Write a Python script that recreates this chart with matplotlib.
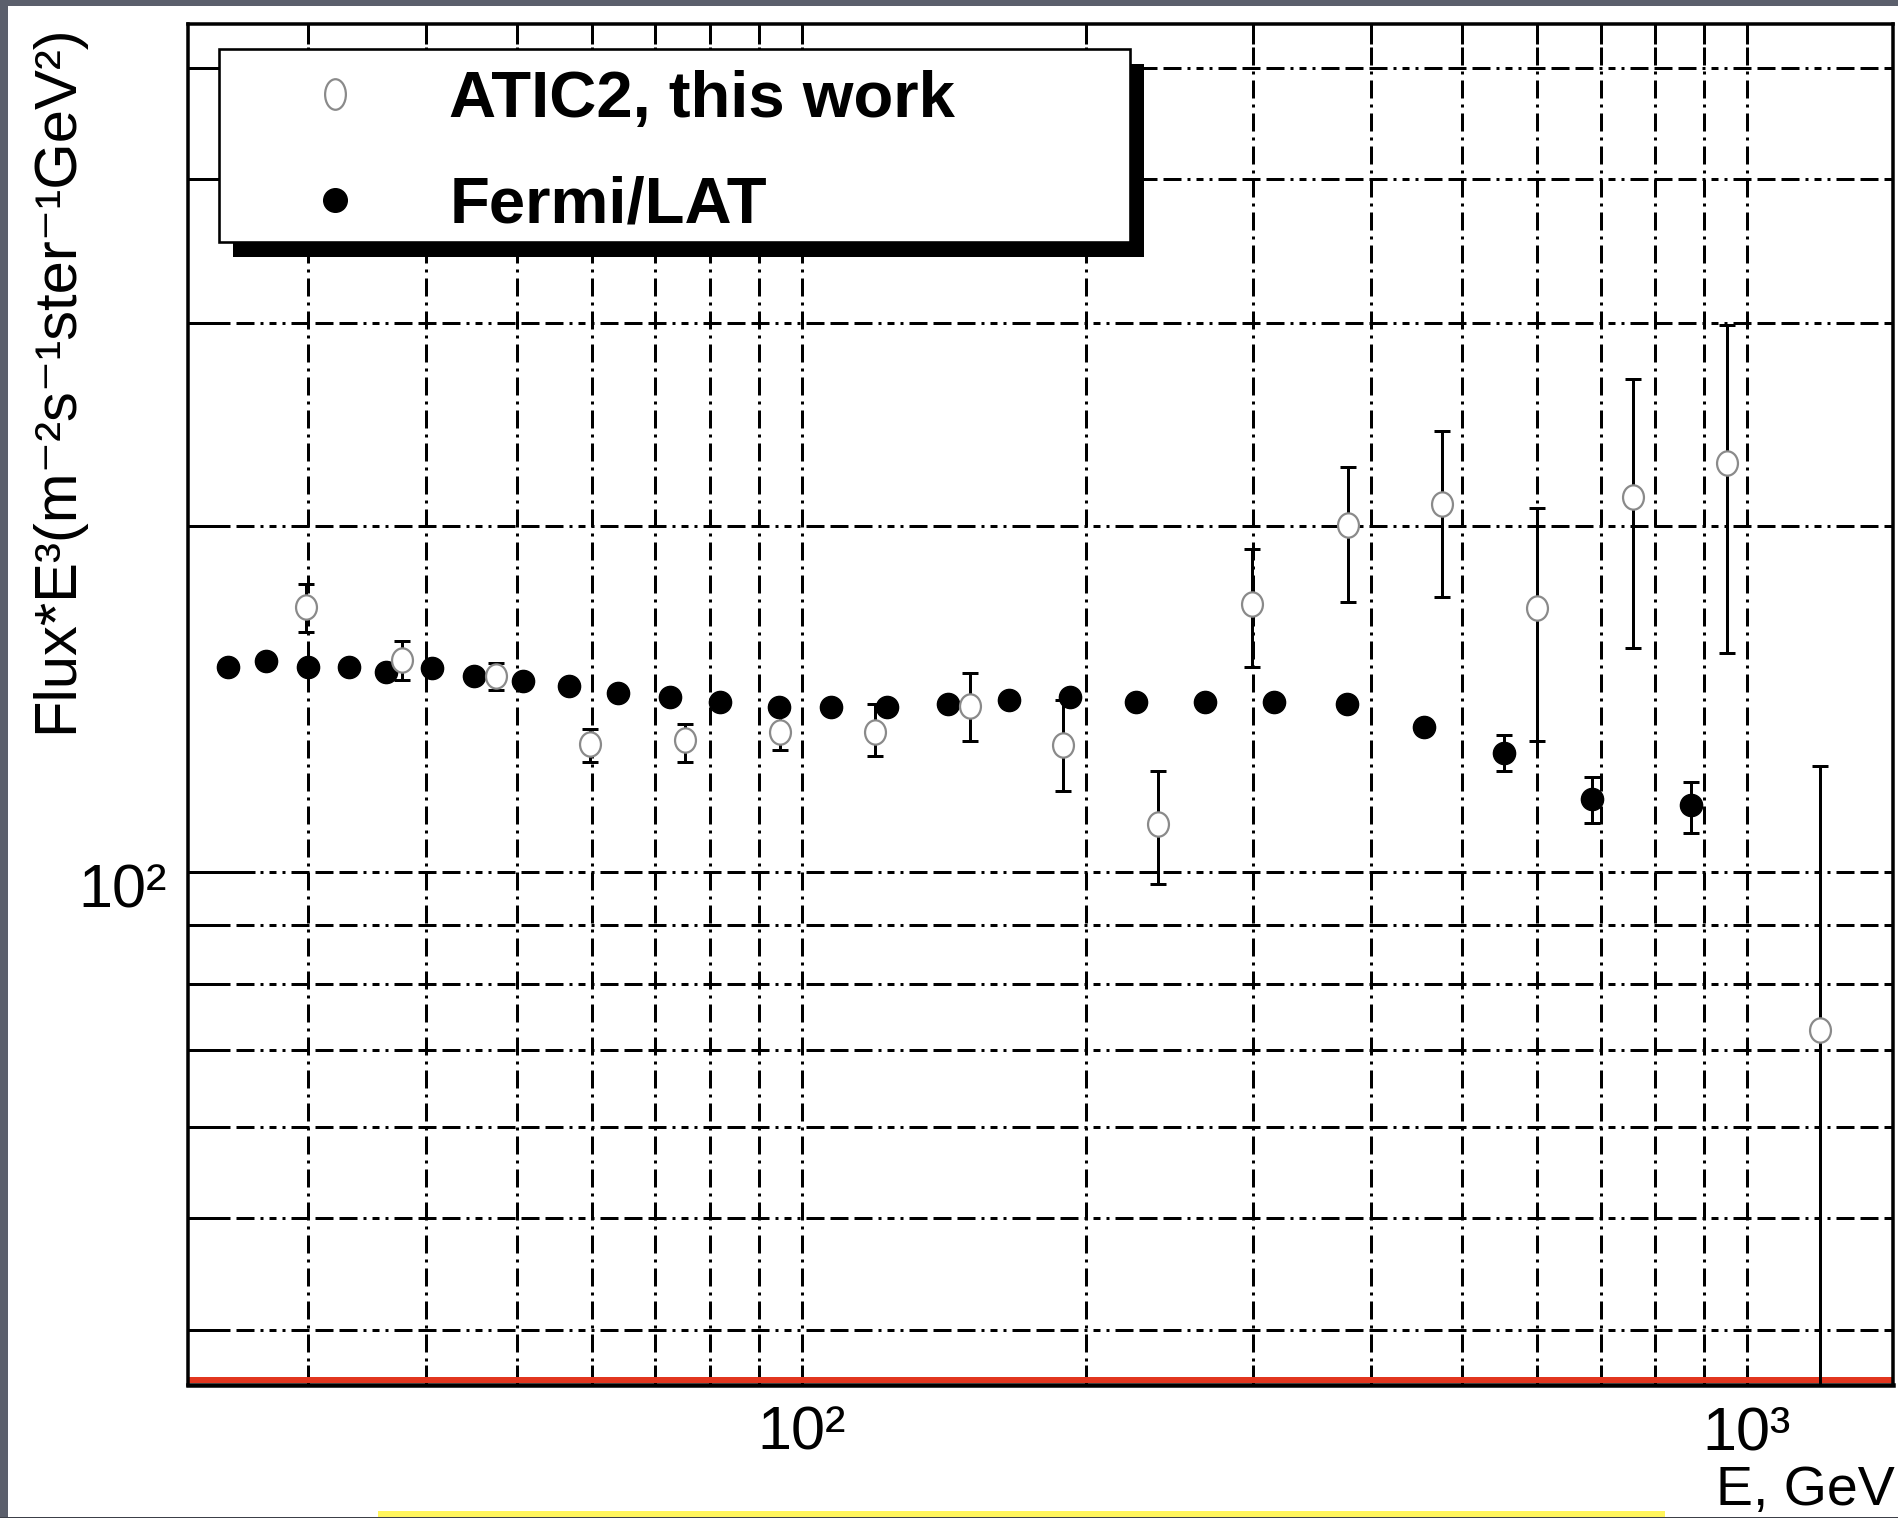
import matplotlib
matplotlib.use("Agg")
import matplotlib.pyplot as plt
import matplotlib.transforms as mtransforms
from matplotlib.patches import Rectangle
from matplotlib.lines import Line2D
from matplotlib.path import Path
from matplotlib.ticker import FixedLocator, FixedFormatter, NullFormatter
import numpy as np

# ---------------- data ----------------
# Fermi/LAT electron spectrum, Flux*E^3
fermi_energy = [24.7, 27.1, 30.0, 33.2, 36.3, 40.6, 45.0, 50.7, 56.7, 63.9,
                72.6, 81.9, 94.5, 107.4, 123.2, 142.7, 165.8, 192.4, 225.5,
                266.7, 316.1, 377.0, 455.0, 553.0, 685.0, 873.0]
fermi_flux = [150.8, 152.5, 150.8, 150.8, 149.3, 150.3, 148.0, 146.6, 145.1,
              143.1, 141.8, 140.6, 139.2, 139.2, 139.0, 140.0, 141.1, 141.8,
              140.6, 140.6, 140.6, 140.0, 133.7, 127.0, 115.7, 114.3]
fermi_err_low = [0, 0, 0, 0, 0, 0, 0, 0, 0, 0, 0, 0, 0, 0, 0, 0, 0, 0, 0, 0,
                 0, 0, 0, 4.7, 5.3, 6.2]
fermi_err_high = [0, 0, 0, 0, 0, 0, 0, 0, 0, 0, 0, 0, 0, 0, 0, 0, 0, 0, 0, 0,
                  0, 0, 0, 4.5, 5.3, 5.5]

# ATIC2 (this work): value with lower / upper bounds of the error bar
atic_energy = [29.9, 37.8, 47.5, 59.7, 75.2, 94.8, 119.5, 150.5, 189.0, 238.1,
               299.2, 378.4, 476.2, 599.8, 756.6, 952.0, 1193.9]
atic_flux = [170.0, 152.9, 148.0, 129.1, 130.2, 132.4, 132.4, 139.5, 129.0,
             110.1, 171.0, 200.3, 208.7, 169.5, 211.9, 226.8, 72.9]
atic_upper = [177.8, 158.9, 152.0, 133.1, 134.5, 139.0, 140.0, 148.8, 141.1,
              122.4, 190.8, 225.0, 241.8, 207.0, 268.0, 299.0, 123.6]
atic_lower = [161.7, 146.8, 143.9, 124.7, 124.7, 127.6, 126.2, 130.1, 117.6,
              97.6, 150.6, 171.8, 173.5, 130.1, 156.6, 155.1, 30.0]

x_major = [100, 1000]
x_major_labels = ["10²", "10³"]
x_minor = [30, 40, 50, 60, 70, 80, 90, 200, 300, 400, 500, 600, 700, 800, 900]
y_major = [100]
y_major_labels = ["10²"]
y_minor = [40, 50, 60, 70, 80, 90, 200, 300, 400, 500]

legend_labels = ["ATIC2, this work", "Fermi/LAT"]
x_title = "E, GeV"
y_title = "Flux*E³(m⁻²s⁻¹ster⁻¹GeV²)"

# ---------------- figure ----------------
plt.rcParams["lines.scale_dashes"] = False
plt.rcParams["font.family"] = ["Liberation Sans", "DejaVu Sans"]

DPI = 100
W, H = 1899, 1518
PX = 72.0 / DPI  # points per pixel

fig = plt.figure(figsize=(W / DPI, H / DPI), dpi=DPI)
fig.patch.set_facecolor("white")

# slide background strips around the pasted plot
slate = "#5b5f6c"
fig.patches.append(Rectangle((0, 0), 8 / W, 1, transform=fig.transFigure,
                             facecolor=slate, edgecolor="none", zorder=0))
fig.patches.append(Rectangle((0, 1 - 6 / H), 1, 6 / H, transform=fig.transFigure,
                             facecolor=slate, edgecolor="none", zorder=0))
fig.patches.append(Rectangle((378 / W, 1 / H), (1665 - 378) / W, 6 / H,
                             transform=fig.transFigure, facecolor="#fff55c",
                             edgecolor="none", zorder=0))
fig.patches.append(Rectangle((0, 0), 1, 1.2 / H, transform=fig.transFigure,
                             facecolor="#3c3f48", edgecolor="none", zorder=0))

# plot frame (pixel box: x 188..1893, y 24..1385)
left_px, right_px, top_px, bottom_px = 187.7, 1892.7, 24, 1385
ax_w = right_px - left_px
ax_h = bottom_px - top_px
ax = fig.add_axes([left_px / W, (H - bottom_px) / H, ax_w / W, ax_h / H])
ax.set_facecolor("white")
ax.set_xscale("log")
ax.set_yscale("log")
ax.set_xlim(22.4, 1426)
ax.set_ylim(35.83, 545.6)


def ax_frac(px, py):
    """pixel position in the image -> axes fraction"""
    return (px - left_px) / ax_w, (bottom_px - py) / ax_h


ax.xaxis.set_major_locator(FixedLocator(x_major))
ax.xaxis.set_major_formatter(FixedFormatter(x_major_labels))
ax.xaxis.set_minor_locator(FixedLocator(x_minor))
ax.xaxis.set_minor_formatter(NullFormatter())
ax.yaxis.set_major_locator(FixedLocator(y_major))
ax.yaxis.set_major_formatter(FixedFormatter(y_major_labels))
ax.yaxis.set_minor_locator(FixedLocator(y_minor))
ax.yaxis.set_minor_formatter(NullFormatter())

tick_size = 44
ax.tick_params(axis="x", which="both", direction="in", length=20 * PX,
               width=3 * PX, top=True, bottom=True, pad=15,
               labelsize=tick_size)
ax.tick_params(axis="y", which="major", direction="in", length=67 * PX,
               width=3 * PX, left=True, right=False, pad=15,
               labelsize=tick_size)
ax.tick_params(axis="y", which="minor", direction="in", length=36 * PX,
               width=3 * PX, left=True, right=False)

# y tick label sits with its baseline below the grid line
ylab_shift = mtransforms.ScaledTranslation(0, -35 / DPI, fig.dpi_scale_trans)
for tk in ax.yaxis.get_major_ticks():
    tk.label1.set_verticalalignment("baseline")
    tk.label1.set_transform(tk.label1.get_transform() + ylab_shift)

for side in ("left", "right", "top"):
    ax.spines[side].set_linewidth(3.5 * PX)
ax.spines["bottom"].set_linewidth(4.5 * PX)

# dash-dot grid
h_dash = tuple(v * PX for v in (18, 6, 18, 6, 18, 6, 3, 6, 7, 6, 3, 6))
v_dash = tuple(v * PX for v in (18, 6, 3, 6))
ax.grid(True, which="both", axis="y", color="black", linewidth=3 * PX,
        linestyle=(0, h_dash))
ax.grid(True, which="both", axis="x", color="black", linewidth=3 * PX,
        linestyle=(0, v_dash))
ax.set_axisbelow(True)

# red highlight along the bottom of the frame
red_shift = mtransforms.ScaledTranslation(0, 5 / DPI, fig.dpi_scale_trans)
ax.add_line(Line2D([0, 1], [0, 0], transform=ax.transAxes + red_shift,
                   color="#e2361f", linewidth=6 * PX, solid_capstyle="butt",
                   clip_on=False, zorder=2.4))

# ---------------- data series ----------------
oval = Path.unit_circle().transformed(mtransforms.Affine2D().scale(0.86, 1.0))

fermi_yerr = np.array([fermi_err_low, fermi_err_high])
ax.errorbar(fermi_energy, fermi_flux, yerr=fermi_yerr, fmt="o", color="black",
            ms=16, mfc="black", mec="black", ecolor="black",
            elinewidth=3 * PX, capsize=8 * PX, capthick=3 * PX, zorder=3)

atic_flux_a = np.array(atic_flux)
atic_yerr = np.array([atic_flux_a - np.array(atic_lower),
                      np.array(atic_upper) - atic_flux_a])
ax.errorbar(atic_energy, atic_flux, yerr=atic_yerr, fmt="none",
            ecolor="black", elinewidth=3 * PX, capsize=8 * PX,
            capthick=3 * PX, zorder=4)
ax.plot(atic_energy, atic_flux, ls="none", marker=oval, ms=17.5,
        mfc="white", mec="#8a8a8a", mew=1.6, zorder=4.1)

# ---------------- titles ----------------
ax.set_xlabel(x_title, loc="right", fontsize=40)
ax.xaxis.set_label_coords(*ax_frac(1895, 1465))
ax.set_ylabel(y_title, loc="top", fontsize=43)
ax.yaxis.set_label_coords((84 - left_px) / ax_w, 1.0)

# ---------------- legend ----------------
ellipse = Path.unit_circle().transformed(mtransforms.Affine2D().scale(0.68, 1.0))
handles = [
    Line2D([], [], ls="none", marker=ellipse, ms=22, mfc="white",
           mec="#8a8a8a", mew=1.6),
    Line2D([], [], ls="none", marker="o", ms=17, mfc="black", mec="black"),
]
leg = ax.legend(handles, legend_labels, loc="upper left",
                bbox_to_anchor=ax_frac(232, 70), borderaxespad=0,
                borderpad=0, frameon=False,
                prop={"weight": "bold", "size": 47},
                handlelength=3.15, handletextpad=0.18,
                labelspacing=0.7, numpoints=1)
leg.set_zorder(6)

# legend frame with a solid offset shadow
bx0, by1 = ax_frac(219, 49)
bx1, by0 = ax_frac(1130, 242)
sdx, sdy = 14 / ax_w, -15 / ax_h
ax.add_patch(Rectangle((bx0 + sdx, by0 + sdy), bx1 - bx0, by1 - by0,
                       transform=ax.transAxes, facecolor="black",
                       edgecolor="none", zorder=5.6, clip_on=False))
ax.add_patch(Rectangle((bx0, by0), bx1 - bx0, by1 - by0,
                       transform=ax.transAxes, facecolor="white",
                       edgecolor="black", linewidth=2.6 * PX, zorder=5.7,
                       clip_on=False))

fig.savefig("out.png", dpi=DPI)
